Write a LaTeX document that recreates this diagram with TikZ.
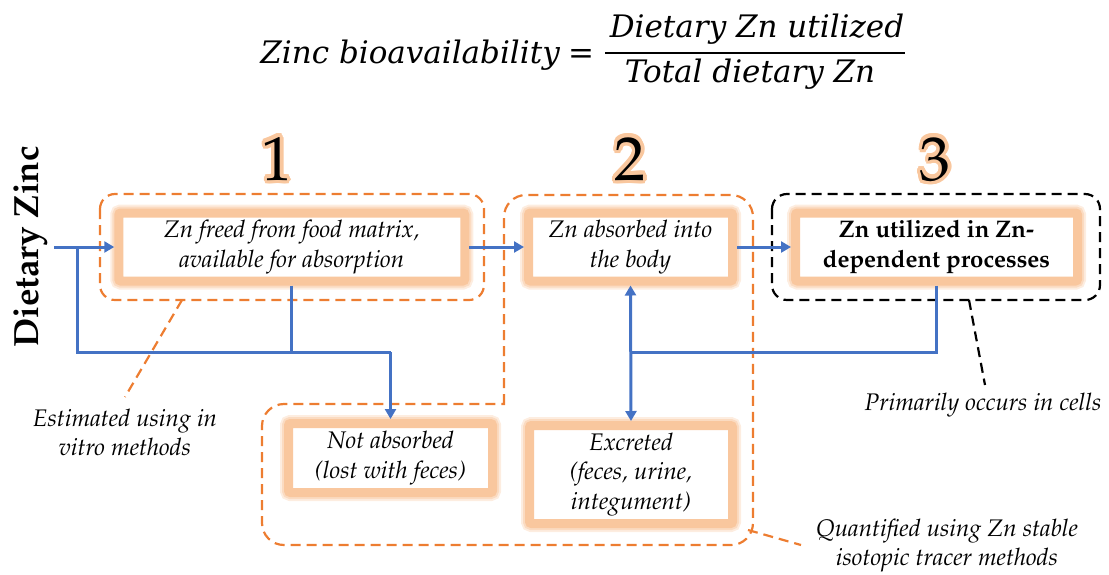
\documentclass[tikz,border=0pt]{standalone}
\usepackage[T1]{fontenc}
\usepackage{fontspec}
\usepackage[copies]{contour}
\usetikzlibrary{arrows.meta,calc}
\newfontfamily\fml{DejaVu Serif}
\newcommand\pal{\fontencoding{T1}\fontfamily{ppl}\selectfont}
\definecolor{zorange}{RGB}{237,125,49}
\definecolor{zblue}{RGB}{68,114,196}
\definecolor{glowA}{RGB}{249,199,158}
\definecolor{glowB}{RGB}{251,219,193}
\definecolor{glowC}{RGB}{253,237,224}
\contourlength{3.5pt}
\contournumber{24}
\begin{document}
\begin{tikzpicture}[x=1pt,y=-1pt,
  glowbox/.style={rectangle, rounded corners=2pt, draw=glowA, line width=9pt, fill=white,
    inner sep=0pt, align=center, preaction={draw=glowC, line width=17pt},
    preaction={draw=glowB, line width=13pt},
    font=\pal\itshape\fontsize{24}{29.5}\selectfont},
  odash/.style={draw=zorange, line width=2.2pt, dash pattern=on 10pt off 6pt},
  kdash/.style={draw=black, line width=2.2pt, dash pattern=on 10pt off 6pt},
  bline/.style={draw=zblue, line width=3pt},
  barrow/.style={bline, -{Triangle[length=10pt,width=11pt]}},
  note/.style={align=center, inner sep=0pt, font=\pal\itshape\fontsize{24}{29}\selectfont},
  num/.style={anchor=base, inner sep=0pt, font=\pal\fontsize{62}{62}\selectfont},
  fm/.style={inner sep=0pt, font=\fml\itshape\fontsize{31}{31}\selectfont}]
\useasboundingbox (0,0) rectangle (1109,574);

% formula
\node[fm, anchor=base east] (zb) at (560,63) {Zinc bioavailability};
\node[fm, anchor=base, font=\fml\fontsize{31}{31}\selectfont] (eq) at (581,63) {=};
\node[fm, anchor=base] (num) at (757,37) {Dietary Zn utilized};
\node[fm, anchor=base] (den) at (750,82) {Total dietary Zn};
\coordinate (barL) at (605,53);
\coordinate (barR) at (905,53);
\draw[line width=2.5pt] (barL) -- (barR);

% step numbers
\node[num] (n1) at (277,180) {\contour{glowA}{1}};
\node[num] (n2) at (630,180) {\contour{glowA}{2}};
\node[num] (n3) at (935,180) {\contour{glowA}{3}};

% dietary zinc
\node[rotate=90, anchor=base, inner sep=0pt, font=\pal\bfseries\fontsize{35}{35}\selectfont] (dz) at (38,247) {Dietary Zinc};

% dashed regions
\draw[odash, rounded corners=15pt] (100,194) rectangle (484,300);
\draw[odash, rounded corners=22pt] (504,404) -- (504,195) -- (753,195) -- (753,545) -- (262,545) -- (262,404) -- (505.1,404);
\draw[kdash, rounded corners=15pt] (772,194) rectangle (1100,300);

% boxes
\node[glowbox, minimum width=346pt, minimum height=68pt] (b1) at (291.75,247) {Zn freed from food matrix,\\ available for absorption};
\node[glowbox, minimum width=204pt, minimum height=68pt] (b2) at (630.5,247) {Zn absorbed into\\ the body};
\node[glowbox, minimum width=282pt, minimum height=68pt, font=\pal\bfseries\fontsize{24}{29.5}\selectfont] (b3) at (936.5,247) {Zn utilized in Zn-\\dependent processes};
\node[glowbox, minimum width=204pt, minimum height=69pt] (na) at (390.5,458) {Not absorbed\\ (lost with feces)};
\node[glowbox, minimum width=203pt, minimum height=98pt] (ex) at (631,474.5) {Excreted\\ (feces, urine,\\ integument)};

% connectors
\coordinate (start) at (54,247);
\coordinate (j1) at (77,247);
\coordinate (hrow) at (0,352);
\draw[barrow] (start) -- (b1.west);
\draw[bline] (j1) |- (hrow -| na.north) coordinate (jn);
\draw[barrow] (jn) -- (na.north);
\draw[bline] (b1.south) -- (b1.south |- hrow);
\draw[barrow] (b1.east) -- (b2.west);
\draw[barrow] (b2.east) -- (b3.west);
\draw[bline] (b3.south) |- (hrow -| b2.south);
\draw[bline, {Triangle[length=10pt,width=11pt]}-{Triangle[length=10pt,width=11pt]}] (b2.south) -- (ex.north);

% notes
\node[note] (est) at (125,432) {Estimated using in\\ vitro methods};
\node[note] (prim) at (983,405) {Primarily occurs in cells};
\node[note] (quant) at (947,546) {Quantified using Zn stable\\ isotopic tracer methods};
\coordinate (l1a) at (182,300);
\coordinate (l1b) at (125,397);
\draw[odash] (l1a) -- (l1b);
\coordinate (l3a) at (969,300);
\coordinate (l3b) at (985,385);
\draw[kdash] (l3a) -- (l3b);
\coordinate (l2a) at (748,530);
\coordinate (l2b) at (801,545);
\draw[odash] (l2a) -- (l2b);
\end{tikzpicture}
\end{document}
